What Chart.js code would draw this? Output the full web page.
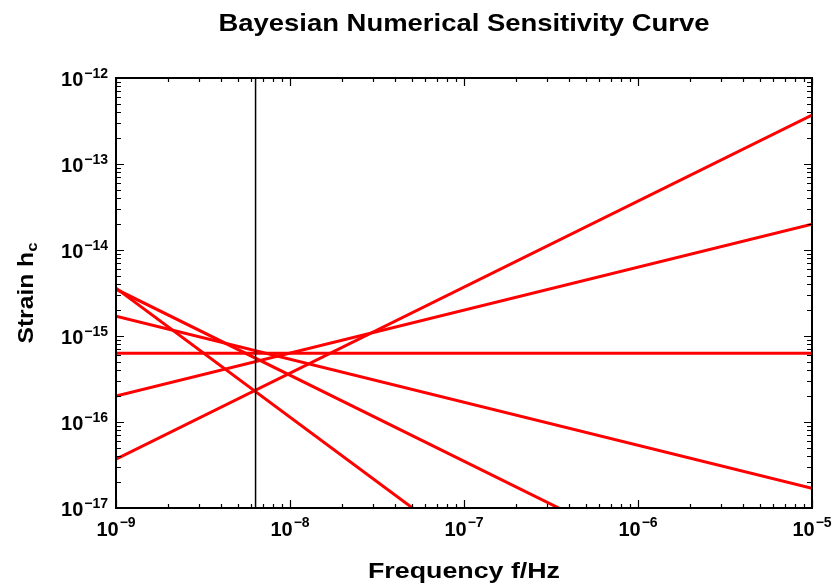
<!DOCTYPE html>
<html lang="en">
<head>
    <meta charset="UTF-8">
    <title>Bayesian Numerical Sensitivity Curve</title>
    <script src="https://cdn.jsdelivr.net/npm/chart.js"></script>
    <style>
        * { box-sizing: border-box; margin: 0; padding: 0; }
        body { background: #fff; }
        .chart-box { width: 833px; height: 585px; }
    </style>
</head>
<body>
    <div class="chart-box">
        <canvas id="sensitivityChart"></canvas>
    </div>

    <script>
        // Frequency end points (Hz) and strain values at each end, one line per spectral slope
        const freq = [1e-9, 1e-5];
        const hSlopeP1 = [3.7e-17, 3.7e-13];
        const hSlopeP05 = [2.0e-16, 2.0e-14];
        const hFlat = [6.3e-16, 6.3e-16];
        const hSlopeM05 = [1.7e-15, 1.7e-17];
        const hSlopeM1 = [3.5e-15, 3.5e-19];
        const hSlopeM15 = [3.6e-15, 3.6e-21];

        // Vertical marker line (1 / 5 yr)
        const fMark = [6.34e-9, 6.34e-9];
        const hMark = [1e-17, 1e-12];

        // Tick decades
        const xDecades = [-9, -8, -7, -6, -5];
        const yDecades = [-17, -16, -15, -14, -13, -12];

        const FONT = '"Liberation Sans", Arial, Helvetica, sans-serif';

        function toPoints(xs, ys) {
            return xs.map((x, i) => ({ x: x, y: ys[i] }));
        }

        function redLine(label, ys) {
            return {
                label: label,
                data: toPoints(freq, ys),
                borderColor: '#ff0000',
                borderWidth: 3,
                pointRadius: 0,
                showLine: true,
                order: 1
            };
        }

        function supText(n) {
            return '\u2212' + String(Math.abs(n));
        }

        // draw text horizontally stretched to a target width
        function fitText(ctx, text, x, y, font, width) {
            ctx.save();
            ctx.font = font;
            const w = ctx.measureText(text).width;
            ctx.translate(x, y);
            ctx.scale(width / w, 1);
            ctx.textAlign = 'center';
            ctx.textBaseline = 'alphabetic';
            ctx.fillText(text, 0, 0);
            ctx.restore();
        }

        // frame, inward ticks, tick labels and titles
        const framePlugin = {
            id: 'frame',
            afterDraw(chart) {
                const ctx = chart.ctx;
                const xs = chart.scales.x, ys = chart.scales.y;
                const a = chart.chartArea;
                ctx.save();
                ctx.strokeStyle = '#000';
                ctx.fillStyle = '#000';

                // ticks
                ctx.lineWidth = 1.2;
                ctx.beginPath();
                xDecades.forEach((d, i) => {
                    for (let m = 1; m <= 9; m++) {
                        if (m > 1 && i === xDecades.length - 1) break;
                        const px = Math.round(xs.getPixelForValue(m * Math.pow(10, d))) + 0.5;
                        const len = m === 1 ? 8 : 4;
                        ctx.moveTo(px, a.bottom); ctx.lineTo(px, a.bottom - len);
                        ctx.moveTo(px, a.top); ctx.lineTo(px, a.top + len);
                    }
                });
                yDecades.forEach((d, i) => {
                    for (let m = 1; m <= 9; m++) {
                        if (m > 1 && i === yDecades.length - 1) break;
                        const py = Math.round(ys.getPixelForValue(m * Math.pow(10, d))) + 0.5;
                        const len = m === 1 ? 8 : 5;
                        ctx.moveTo(a.left, py); ctx.lineTo(a.left + len, py);
                        ctx.moveTo(a.right, py); ctx.lineTo(a.right - len, py);
                    }
                });
                ctx.stroke();

                // frame
                ctx.lineWidth = 2;
                ctx.strokeRect(a.left, a.top, a.right - a.left, a.bottom - a.top);

                // y tick labels
                const baseFont = 'bold 20px ' + FONT;
                const expFont = 'bold 14px ' + FONT;
                ctx.textAlign = 'left';
                ctx.textBaseline = 'alphabetic';
                yDecades.forEach(d => {
                    const py = ys.getPixelForValue(Math.pow(10, d));
                    ctx.font = expFont;
                    const e = supText(d);
                    const we = ctx.measureText(e).width;
                    ctx.fillText(e, 108 - we, py);
                    ctx.font = baseFont;
                    const wb = ctx.measureText('10').width;
                    ctx.fillText('10', 108 - we - 1 - wb, py + 7.5);
                });

                // x tick labels
                xDecades.forEach(d => {
                    const px = xs.getPixelForValue(Math.pow(10, d));
                    const e = supText(d);
                    ctx.font = expFont;
                    const we = ctx.measureText(e).width;
                    ctx.font = baseFont;
                    const wb = ctx.measureText('10').width;
                    const start = px - (wb + 1 + we) / 2;
                    ctx.fillText('10', start, 536);
                    ctx.font = expFont;
                    ctx.fillText(e, start + wb + 1, 527);
                });

                // titles
                const midX = (a.left + a.right) / 2;
                fitText(ctx, 'Bayesian Numerical Sensitivity Curve', midX, 31, 'bold 24px ' + FONT, 491);
                fitText(ctx, 'Frequency f/Hz', midX, 578, 'bold 22px ' + FONT, 192);

                // y title with subscript
                ctx.save();
                ctx.translate(33, (a.top + a.bottom) / 2);
                ctx.rotate(-Math.PI / 2);
                ctx.font = 'bold 22px ' + FONT;
                const main = 'Strain h';
                const wm = ctx.measureText(main).width;
                ctx.font = 'bold 15px ' + FONT;
                const ws = ctx.measureText('c').width;
                const total = wm + ws;
                const sx = 101 / total;
                ctx.scale(sx, 1);
                ctx.font = 'bold 22px ' + FONT;
                ctx.textAlign = 'left';
                ctx.fillText(main, -total / 2, 0);
                ctx.font = 'bold 15px ' + FONT;
                ctx.fillText('c', -total / 2 + wm, 4);
                ctx.restore();

                ctx.restore();
            }
        };

        const ctx = document.getElementById('sensitivityChart').getContext('2d');
        new Chart(ctx, {
            type: 'scatter',
            data: {
                datasets: [
                    {
                        label: '1/5 yr',
                        data: toPoints(fMark, hMark),
                        borderColor: '#000',
                        borderWidth: 1.5,
                        pointRadius: 0,
                        showLine: true,
                        order: 0
                    },
                    redLine('slope 1', hSlopeP1),
                    redLine('slope 1/2', hSlopeP05),
                    redLine('slope 0', hFlat),
                    redLine('slope -1/2', hSlopeM05),
                    redLine('slope -1', hSlopeM1),
                    redLine('slope -3/2', hSlopeM15)
                ]
            },
            options: {
                responsive: true,
                maintainAspectRatio: false,
                animation: false,
                layout: { padding: { left: 116, right: 21, top: 78, bottom: 77 } },
                plugins: {
                    legend: { display: false },
                    tooltip: { enabled: false }
                },
                scales: {
                    x: { type: 'logarithmic', min: 1e-9, max: 1e-5, display: false },
                    y: { type: 'logarithmic', min: 1e-17, max: 1e-12, display: false }
                }
            },
            plugins: [framePlugin]
        });
    </script>
</body>
</html>
